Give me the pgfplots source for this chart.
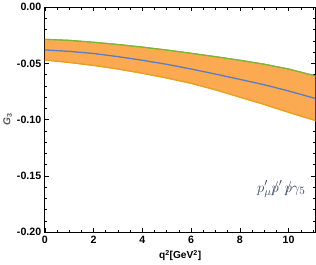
\documentclass[border=0pt]{standalone}
\usepackage{pgfplots}
\pgfplotsset{compat=1.18}
\usepackage{fontspec}
\setmainfont{Liberation Sans}
\usetikzlibrary{pgfplots.fillbetween}
\definecolor{bandfill}{RGB}{252,170,82}
\definecolor{upline}{RGB}{130,180,50}
\definecolor{midline}{RGB}{95,125,190}
\definecolor{lowline}{RGB}{230,160,40}
\definecolor{annot}{RGB}{60,75,100}
\newcommand{\pslash}{\ooalign{$p$\cr\hidewidth$/$\hidewidth\cr}}
\begin{document}
\begin{tikzpicture}
\begin{axis}[
  scale only axis,
  width=267pt, height=222pt,
  xmin=0, xmax=11.1, ymin=-0.20, ymax=0,
  axis line style={line width=1.1pt},
  xtick={0,2,...,10}, ytick={-0.20,-0.15,...,0.001},
  minor xtick={0.5,1,...,11},
  minor ytick={-0.19,-0.18,...,-0.005},
  tick align=inside,
  major tick length=4pt, minor tick length=2.5pt,
  tick style={black, line width=0.6pt},
  /pgf/number format/assume math mode=true,
  ticklabel style={font=\bfseries\fontsize{10.5}{12}\selectfont},
  yticklabel style={/pgf/number format/.cd, fixed, fixed zerofill, precision=2},
  xlabel={\bfseries q\textsuperscript{2}[GeV\textsuperscript{2}]},
  xlabel style={font=\fontsize{10}{12}\selectfont, yshift=0pt},
  ylabel={\textit{G}\textsubscript{3}},
  ylabel style={font=\bfseries\fontsize{10}{12}\selectfont, text=black!65, yshift=-2pt},
  clip=true,
]
\addplot[name path=up, upline, line width=1.1pt] coordinates {
(0,-0.0286) (1,-0.0295) (2,-0.0312) (3,-0.0332) (4,-0.0355) (5,-0.0381) (6,-0.0410) (7,-0.0440) (8,-0.0472) (9,-0.0507) (10,-0.0550) (11.1,-0.0611)};
\addplot[name path=lo, lowline, line width=1.1pt] coordinates {
(0,-0.0470) (1,-0.0492) (2,-0.0518) (3,-0.0550) (4,-0.0588) (5,-0.0630) (6,-0.0677) (7,-0.0735) (8,-0.0800) (9,-0.0865) (10,-0.0935) (11.1,-0.1008)};
\addplot[bandfill] fill between[of=up and lo];
\addplot[upline, line width=1.1pt] coordinates {
(0,-0.0286) (1,-0.0295) (2,-0.0312) (3,-0.0332) (4,-0.0355) (5,-0.0381) (6,-0.0410) (7,-0.0440) (8,-0.0472) (9,-0.0507) (10,-0.0550) (11.1,-0.0611)};
\addplot[lowline, line width=1.1pt] coordinates {
(0,-0.0470) (1,-0.0492) (2,-0.0518) (3,-0.0550) (4,-0.0588) (5,-0.0630) (6,-0.0677) (7,-0.0735) (8,-0.0800) (9,-0.0865) (10,-0.0935) (11.1,-0.1008)};
\addplot[midline, line width=1.3pt] coordinates {
(0,-0.0380) (1,-0.0393) (2,-0.0412) (3,-0.0440) (4,-0.0472) (5,-0.0508) (6,-0.0550) (7,-0.0595) (8,-0.0642) (9,-0.0690) (10,-0.0745) (11.1,-0.0812)};
\node[text=annot, font=\fontsize{15.5}{17}\selectfont] at (axis cs:9.7,-0.162) {$p'_\mu\pslash'\,\pslash\gamma_5$};
\end{axis}
\end{tikzpicture}
\end{document}
